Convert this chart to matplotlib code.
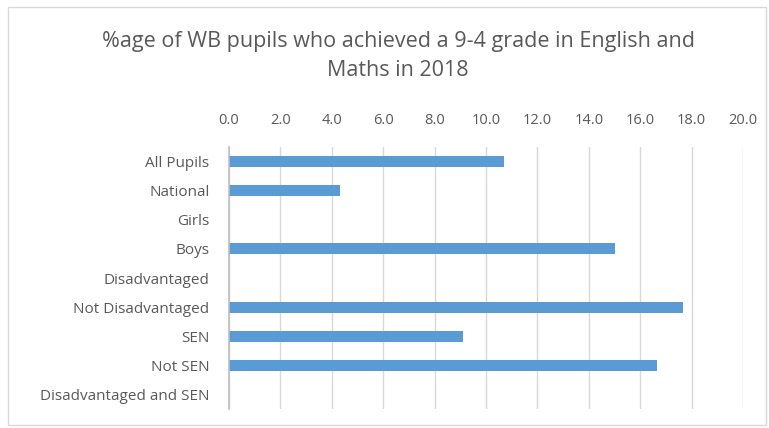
import matplotlib.pyplot as plt
from matplotlib.patches import Rectangle

categories = ["All Pupils", "National", "Girls", "Boys", "Disadvantaged",
              "Not Disadvantaged", "SEN", "Not SEN", "Disadvantaged and SEN"]
values = [10.7, 4.3, 0, 15.0, 0, 17.65, 9.1, 16.67, 0]
ticks = [0, 2, 4, 6, 8, 10, 12, 14, 16, 18, 20]

plt.rcParams['font.family'] = ['Open Sans', 'DejaVu Sans']
text_color = '#595959'

fig = plt.figure(figsize=(7.69, 4.28), dpi=100)
ax = fig.add_axes([229 / 769, 1 - 409 / 428, (743 - 229) / 769, (409 - 147) / 428])

y = list(range(len(categories)))
ax.barh(y, values, height=0.38, color='#5b9bd5', zorder=3)

ax.set_xlim(0, 20)
ax.set_ylim(len(categories) - 0.5, -0.5)
ax.set_xticks(ticks)
ax.set_xticklabels([f"{t:.1f}" for t in ticks])
ax.set_yticks(y)
ax.set_yticklabels(categories)
ax.xaxis.tick_top()
ax.tick_params(axis='both', length=0, colors=text_color)
ax.tick_params(axis='x', pad=14, labelsize=10.5)
ax.tick_params(axis='y', pad=14, labelsize=11)

ax.grid(axis='x', color='#d9d9d9', linewidth=1, zorder=0)
for side in ['top', 'right', 'bottom']:
    ax.spines[side].set_visible(False)
ax.spines['left'].set_color('#bfbfbf')
ax.spines['left'].set_linewidth(1.2)
ax.spines['left'].set_zorder(4)

fig.text(398 / 769, 1 - 42 / 428, "%age of WB pupils who achieved a 9-4 grade in English and",
         ha='center', va='center', fontsize=15.5, color=text_color)
fig.text(398 / 769, 1 - 70 / 428, "Maths in 2018",
         ha='center', va='center', fontsize=15.5, color=text_color)

fig.patches.append(Rectangle((8 / 769, 3 / 428), 758 / 769, 418 / 428,
                             transform=fig.transFigure, fill=False,
                             edgecolor='#d9d9d9', linewidth=1))

fig.savefig("out.png", dpi=100)
